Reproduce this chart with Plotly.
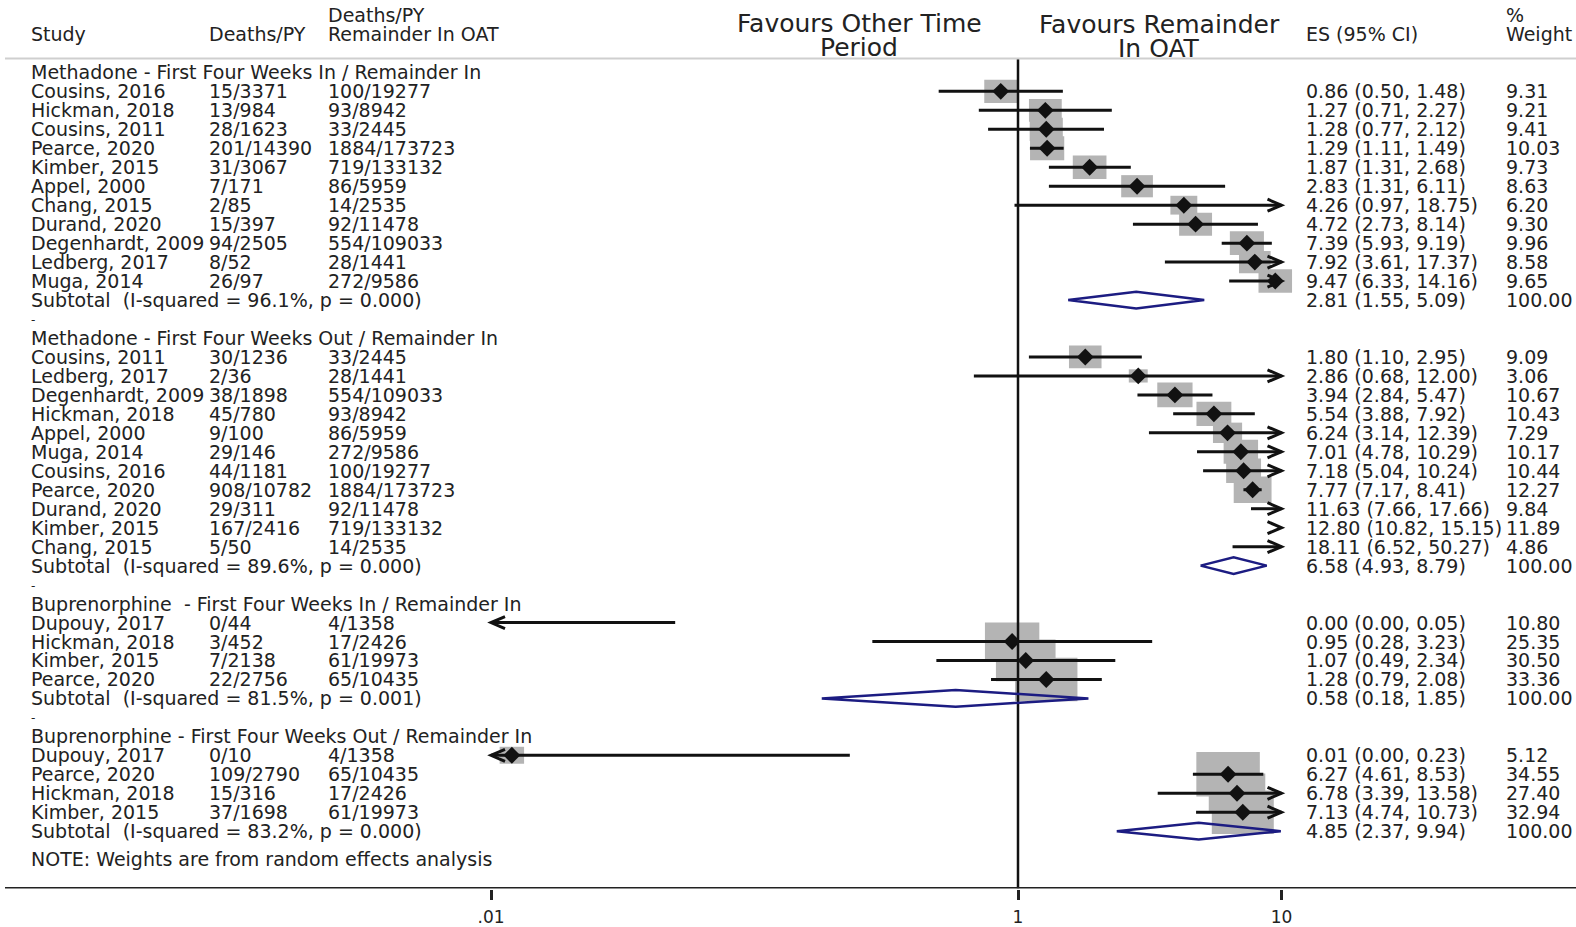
import plotly.graph_objects as go

# ---------------- data ----------------
g1_title = "Methadone - First Four Weeks In / Remainder In"
g1_study = ["Cousins, 2016", "Hickman, 2018", "Cousins, 2011", "Pearce, 2020", "Kimber, 2015",
            "Appel, 2000", "Chang, 2015", "Durand, 2020", "Degenhardt, 2009", "Ledberg, 2017", "Muga, 2014"]
g1_dpy = ["15/3371", "13/984", "28/1623", "201/14390", "31/3067", "7/171", "2/85", "15/397",
          "94/2505", "8/52", "26/97"]
g1_rem = ["100/19277", "93/8942", "33/2445", "1884/173723", "719/133132", "86/5959", "14/2535",
          "92/11478", "554/109033", "28/1441", "272/9586"]
g1_es = [0.86, 1.27, 1.28, 1.29, 1.87, 2.83, 4.26, 4.72, 7.39, 7.92, 9.47]
g1_lo = [0.50, 0.71, 0.77, 1.11, 1.31, 1.31, 0.97, 2.73, 5.93, 3.61, 6.33]
g1_hi = [1.48, 2.27, 2.12, 1.49, 2.68, 6.11, 18.75, 8.14, 9.19, 17.37, 14.16]
g1_wt = [9.31, 9.21, 9.41, 10.03, 9.73, 8.63, 6.20, 9.30, 9.96, 8.58, 9.65]
g1_sub = [2.81, 1.55, 5.09, 96.1, 0.000]  # es, lo, hi, I-squared, p

g2_title = "Methadone - First Four Weeks Out / Remainder In"
g2_study = ["Cousins, 2011", "Ledberg, 2017", "Degenhardt, 2009", "Hickman, 2018", "Appel, 2000",
            "Muga, 2014", "Cousins, 2016", "Pearce, 2020", "Durand, 2020", "Kimber, 2015", "Chang, 2015"]
g2_dpy = ["30/1236", "2/36", "38/1898", "45/780", "9/100", "29/146", "44/1181", "908/10782",
          "29/311", "167/2416", "5/50"]
g2_rem = ["33/2445", "28/1441", "554/109033", "93/8942", "86/5959", "272/9586", "100/19277",
          "1884/173723", "92/11478", "719/133132", "14/2535"]
g2_es = [1.80, 2.86, 3.94, 5.54, 6.24, 7.01, 7.18, 7.77, 11.63, 12.80, 18.11]
g2_lo = [1.10, 0.68, 2.84, 3.88, 3.14, 4.78, 5.04, 7.17, 7.66, 10.82, 6.52]
g2_hi = [2.95, 12.00, 5.47, 7.92, 12.39, 10.29, 10.24, 8.41, 17.66, 15.15, 50.27]
g2_wt = [9.09, 3.06, 10.67, 10.43, 7.29, 10.17, 10.44, 12.27, 9.84, 11.89, 4.86]
g2_sub = [6.58, 4.93, 8.79, 89.6, 0.000]

g3_title = "Buprenorphine\u00a0 - First Four Weeks In / Remainder In"
g3_study = ["Dupouy, 2017", "Hickman, 2018", "Kimber, 2015", "Pearce, 2020"]
g3_dpy = ["0/44", "3/452", "7/2138", "22/2756"]
g3_rem = ["4/1358", "17/2426", "61/19973", "65/10435"]
g3_es = [0.002, 0.95, 1.07, 1.28]
g3_lo = [0.0001, 0.28, 0.49, 0.79]
g3_hi = [0.05, 3.23, 2.34, 2.08]
g3_wt = [10.80, 25.35, 30.50, 33.36]
g3_sub = [0.58, 0.18, 1.85, 81.5, 0.001]

g4_title = "Buprenorphine - First Four Weeks Out / Remainder In"
g4_study = ["Dupouy, 2017", "Pearce, 2020", "Hickman, 2018", "Kimber, 2015"]
g4_dpy = ["0/10", "109/2790", "15/316", "37/1698"]
g4_rem = ["4/1358", "65/10435", "17/2426", "61/19973"]
g4_es = [0.012, 6.27, 6.78, 7.13]
g4_lo = [0.0004, 4.61, 3.39, 4.74]
g4_hi = [0.23, 8.53, 13.58, 10.73]
g4_wt = [5.12, 34.55, 27.40, 32.94]
g4_sub = [4.85, 2.37, 9.94, 83.2, 0.000]

tick_vals = [0.01, 1, 10]
tick_text = [".01", "1", "10"]
note_text = "NOTE: Weights are from random effects analysis"

groups = [
    (g1_title, g1_study, g1_dpy, g1_rem, g1_es, g1_lo, g1_hi, g1_wt, g1_sub),
    (g2_title, g2_study, g2_dpy, g2_rem, g2_es, g2_lo, g2_hi, g2_wt, g2_sub),
    (g3_title, g3_study, g3_dpy, g3_rem, g3_es, g3_lo, g3_hi, g3_wt, g3_sub),
    (g4_title, g4_study, g4_dpy, g4_rem, g4_es, g4_lo, g4_hi, g4_wt, g4_sub),
]

# ---------------- layout geometry ----------------
W, H = 1576, 927
ROW0 = 72.4      # pixel of first row
PITCH = 18.97    # pixels per row
AXIS_PX = 888.5  # pixel of x axis line
XMIN, XMAX = 0.01, 10.0  # clipping range of the CIs
FONT = "DejaVu Sans"
TXT = "#222222"
FS = 19

def prow(p):
    return (p - ROW0) / PITCH

r_bottom = prow(AXIS_PX)
r_top = prow(0)

fig = go.Figure()
shapes = []
ann = []

def text(x_px, r, s, size=FS, anchor="left"):
    ann.append(dict(x=x_px / W, xref="paper", y=r, yref="y", text=s, showarrow=False,
                    xanchor=anchor, yanchor="middle",
                    font=dict(family=FONT, size=size, color=TXT)))

COL_STUDY, COL_DPY, COL_REM, COL_ES, COL_WT = 29, 207, 326, 1304, 1504

# headers
text(COL_STUDY, -2, "Study")
text(COL_DPY, -2, "Deaths/PY")
text(COL_REM, -3, "Deaths/PY")
text(COL_REM, -2, "Remainder In OAT")
text(COL_ES, -2, "ES (95% CI)")
text(COL_WT, -3, "%")
text(COL_WT, -2, "Weight")
text(859, prow(23.5), "Favours Other Time", size=25, anchor="center")
text(859, prow(47.5), "Period", size=25, anchor="center")
text(1159, prow(24.5), "Favours Remainder", size=25, anchor="center")
text(1159, prow(48.5), "In OAT", size=25, anchor="center")

ci_x, ci_y = [], []
pt_x, pt_y = [], []
dia_traces = []

r = 0
for gi, (title, study, dpy, rem, es, lo, hi, wt, sub) in enumerate(groups):
    text(COL_STUDY, r, title)
    r += 1
    for i in range(len(study)):
        text(COL_STUDY, r, study[i])
        text(COL_DPY, r, dpy[i])
        text(COL_REM, r, rem[i])
        text(COL_ES, r, f"{es[i]:.2f} ({lo[i]:.2f}, {hi[i]:.2f})")
        text(COL_WT, r, f"{wt[i]:.2f}")
        if XMIN <= es[i] <= XMAX:
            bw = 10.8 * wt[i] ** 0.5 / 2
            bh = bw / 1.43
            shapes.append(dict(type="path", xref="x", yref="y", xsizemode="pixel", ysizemode="pixel",
                               xanchor=es[i], yanchor=r,
                               path=f"M{-bw:.2f},{-bh:.2f} L{bw:.2f},{-bh:.2f} L{bw:.2f},{bh:.2f} L{-bw:.2f},{bh:.2f} Z",
                               fillcolor="#b4b4b4", line=dict(width=0), layer="below"))
            pt_x.append(es[i]); pt_y.append(r)
        xl, xh = max(lo[i], XMIN), min(hi[i], XMAX)
        if xl < xh:
            ci_x += [xl, xh, None]; ci_y += [r, r, None]
        if hi[i] > XMAX:
            shapes.append(dict(type="path", xref="x", yref="y", xsizemode="pixel", ysizemode="pixel",
                               xanchor=XMAX, yanchor=r, path="M-14,6 L0,0 L-14,-6",
                               line=dict(color="#111111", width=3)))
        if lo[i] < XMIN:
            shapes.append(dict(type="path", xref="x", yref="y", xsizemode="pixel", ysizemode="pixel",
                               xanchor=XMIN, yanchor=r, path="M14,6 L0,0 L14,-6",
                               line=dict(color="#111111", width=3)))
        r += 1
    s_es, s_lo, s_hi, i2, p = sub
    text(COL_STUDY, r, f"Subtotal\u00a0 (I-squared = {i2:.1f}%, p = {p:.3f})")
    text(COL_ES, r, f"{s_es:.2f} ({s_lo:.2f}, {s_hi:.2f})")
    text(COL_WT, r, "100.00")
    hh = 0.44
    dia_traces.append(go.Scatter(x=[s_lo, s_es, s_hi, s_es, s_lo], y=[r, r - hh, r, r + hh, r],
                                 mode="lines", line=dict(color="#1c1c82", width=2.5),
                                 hoverinfo="skip", showlegend=False))
    r += 1
    if gi < len(groups) - 1:
        text(COL_STUDY, r + 0.05, "-", size=12)
        r += 1

text(COL_STUDY, prow(859.3), note_text)

# vertical line at 1, header separator, axis line
shapes.append(dict(type="line", xref="x", yref="y", x0=1, x1=1, y0=prow(58.5), y1=r_bottom,
                   line=dict(color="#111111", width=2.5), layer="below"))
shapes.append(dict(type="line", xref="paper", yref="y", x0=5 / W, x1=1, y0=prow(58.5), y1=prow(58.5),
                   line=dict(color="#cfcfcf", width=2)))
shapes.append(dict(type="line", xref="paper", yref="y", x0=5 / W, x1=1, y0=r_bottom, y1=r_bottom,
                   line=dict(color="#222222", width=3)))

fig.add_trace(go.Scatter(x=ci_x, y=ci_y, mode="lines", line=dict(color="#111111", width=3),
                         hoverinfo="skip", showlegend=False))
fig.add_trace(go.Scatter(x=pt_x, y=pt_y, mode="markers",
                         marker=dict(symbol="diamond", size=13, color="#111111", line=dict(width=0)),
                         hoverinfo="skip", showlegend=False))
for t in dia_traces:
    fig.add_trace(t)

lo_log, hi_log = -1018 / 263.5, (W - 1018) / 263.5
dom0 = (H - AXIS_PX) / H
fig.update_layout(
    width=W, height=H, margin=dict(l=0, r=0, t=0, b=0, autoexpand=False),
    paper_bgcolor="white", plot_bgcolor="white",
    shapes=shapes, annotations=ann, showlegend=False,
    xaxis=dict(type="log", range=[lo_log, hi_log], showgrid=False, zeroline=False, showline=False,
               automargin=False,
               tickmode="array", tickvals=tick_vals, ticktext=tick_text, ticks="outside",
               ticklen=10, tickwidth=2.5, tickcolor="#222222", ticklabelstandoff=3,
               tickfont=dict(family=FONT, size=17, color=TXT), fixedrange=True),
    yaxis=dict(range=[r_bottom, r_top], domain=[dom0, 1], showgrid=False, zeroline=False,
               automargin=False,
               showline=False, showticklabels=False, ticks="", fixedrange=True),
)
fig.write_html("out.html")
